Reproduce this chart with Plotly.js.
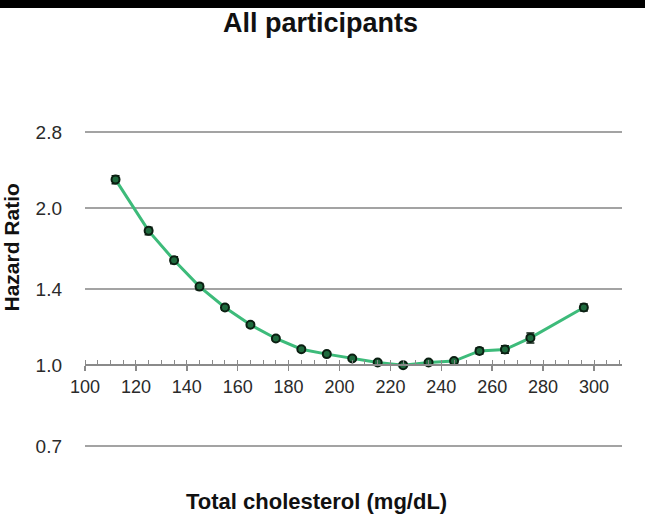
<!DOCTYPE html>
<html>
<head>
<meta charset="utf-8">
<script src="https://cdn.plot.ly/plotly-3.0.1.min.js"></script>
<style>html,body{margin:0;padding:0;background:#fff;}#chart{width:645px;height:516px;}</style>
</head>
<body>
<div id="chart"></div>
<script>
const cholesterol = [112,125,135,145,155,165,175,185,195,205,215,225,235,245,255,265,275,296];
const hazardRatio = [2.27,1.81,1.59,1.415,1.29,1.195,1.125,1.073,1.05,1.03,1.012,1.0,1.012,1.018,1.065,1.072,1.128,1.29];
const ciHalfWidth = [0.04,0.03,0.025,0.02,0.015,0.012,0.01,0.01,0.008,0.008,0.008,0.006,0.008,0.01,0.015,0.018,0.025,0.02];
const yTickVals = [0.7,1.0,1.4,2.0,2.8];
const yTickText = ['0.7','1.0','1.4','2.0','2.8'];
const xTickVals = [100,120,140,160,180,200,220,240,260,280,300];

const FONT = 'Liberation Sans, Arial, Helvetica, sans-serif';

const trace = {
  x: cholesterol,
  y: hazardRatio,
  type: 'scatter',
  mode: 'lines+markers',
  line: {color: '#3dbb7a', width: 3},
  marker: {symbol: 'circle', size: 8, color: '#1f6b3e', line: {color: '#0b1f12', width: 2}},
  error_y: {type: 'data', array: ciHalfWidth, visible: true, color: '#0b1f12', thickness: 1.5, width: 4},
  hoverinfo: 'x+y',
  showlegend: false
};

const yLo = Math.log10(0.7) - 0.006;
const yHi = Math.log10(2.8) + 0.006;

const layout = {
  width: 645,
  height: 516,
  margin: {l: 85, r: 23, t: 129, b: 67},
  paper_bgcolor: '#ffffff',
  plot_bgcolor: '#ffffff',
  font: {family: FONT, color: '#333333'},
  xaxis: {
    range: [100, 311],
    anchor: 'free',
    position: (0 - yLo) / (yHi - yLo),
    tickmode: 'array',
    tickvals: xTickVals,
    ticks: 'outside',
    ticklen: 5,
    tickwidth: 1.5,
    tickcolor: '#8a8a8a',
    ticklabelstandoff: 0,
    tickfont: {size: 18, color: '#2a2a2a', family: FONT},
    showline: true,
    linecolor: '#8a8a8a',
    linewidth: 2,
    showgrid: false,
    zeroline: false,
    minor: {dtick: 5, ticks: 'inside', ticklen: 4, tickwidth: 1, tickcolor: '#8a8a8a', showgrid: false}
  },
  yaxis: {
    type: 'log',
    range: [yLo, yHi],
    tickmode: 'array',
    tickvals: yTickVals,
    ticktext: yTickText,
    ticks: '',
    ticklabelstandoff: 22,
    tickfont: {size: 19, color: '#2a2a2a', family: FONT},
    showgrid: true,
    gridcolor: '#a3a3a3',
    gridwidth: 2,
    showline: false,
    zeroline: false
  },
  annotations: [
    {text: '<b>All participants</b>', xref: 'paper', yref: 'paper', x: 0.4385, y: 1.3313,
     xanchor: 'center', yanchor: 'middle', showarrow: false, font: {size: 27, color: '#111111', family: FONT}},
    {text: '<b>Total cholesterol (mg/dL)</b>', xref: 'paper', yref: 'paper', x: 0.4315, y: -0.1656,
     xanchor: 'center', yanchor: 'middle', showarrow: false, font: {size: 22, color: '#111111', family: FONT}},
    {text: '<b>Hazard Ratio</b>', xref: 'paper', yref: 'paper', x: -0.1378, y: 0.6297, textangle: -90,
     xanchor: 'center', yanchor: 'middle', showarrow: false, font: {size: 21, color: '#111111', family: FONT}}
  ],
  shapes: [
    {type: 'rect', xref: 'paper', yref: 'paper', x0: -0.2, x1: 1.1, y0: 1.378, y1: 1.5,
     fillcolor: '#000000', line: {width: 0}, layer: 'above'}
  ]
};

Plotly.newPlot('chart', [trace], layout, {displayModeBar: false, staticPlot: true});
</script>
</body>
</html>
